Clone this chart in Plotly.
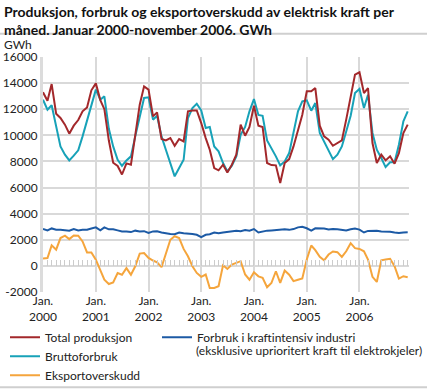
import plotly.graph_objects as go
import pandas as pd

months = pd.date_range("2000-01-01", periods=84, freq="MS").strftime("%Y-%m-%d").tolist()

total_produksjon = [
    13300, 12650, 13930, 11660, 11330, 10820, 10130, 10740, 11170, 11840, 12140, 13450,
    13980, 12700, 12000, 9600, 7900, 7650, 7000, 7850, 7750, 10050, 12350, 13750,
    13500, 11450, 11760, 9720, 9610, 9790, 9200, 9720, 9540, 11840, 11910, 11910,
    10940, 9790, 8900, 7490, 7320, 7750, 7160, 7750, 8520, 10820, 9970, 10640,
    12270, 10740, 10640, 7880, 7720, 7700, 6350, 7880, 8180, 9150, 10430, 11580,
    13370, 13370, 13620, 10740, 9920, 9660, 9200, 9410, 9610, 11200, 12860, 14650,
    14830, 13240, 13620, 9410, 7880, 8520, 8080, 8390, 7830, 8640, 10180, 10820,
]
bruttoforbruk = [
    12730, 11960, 12300, 10690, 9150, 8520, 8080, 8440, 8850, 9920, 11070, 12350,
    13500, 12730, 12990, 10500, 9150, 8130, 7670, 8080, 8390, 9920, 11450, 12860,
    12910, 11200, 11500, 9920, 8900, 7900, 6860, 7490, 8130, 11330, 12090, 12420,
    11910, 10560, 10640, 9150, 8770, 7880, 7240, 7670, 8390, 10050, 10640, 11840,
    12780, 11560, 11500, 9610, 9020, 8390, 7700, 8000, 8640, 10300, 11840, 12600,
    12680, 11890, 12470, 10180, 9540, 8900, 8180, 8520, 9150, 10300, 11500, 13240,
    13550, 12090, 13110, 10180, 8900, 8260, 7570, 7930, 7930, 9280, 11070, 11840,
]
kraftintensiv = [
    2820, 2720, 2870, 2770, 2770, 2720, 2690, 2820, 2720, 2770, 2770, 2870,
    2950, 2720, 2950, 2800, 2800, 2720, 2640, 2640, 2590, 2700, 2640, 2660,
    2520, 2640, 2650, 2560, 2480, 2440, 2420, 2560, 2500, 2480, 2440, 2380,
    2210, 2380, 2420, 2560, 2500, 2560, 2600, 2620, 2700, 2660, 2740, 2700,
    2820, 2560, 2640, 2700, 2720, 2740, 2800, 2800, 2760, 2820, 2950, 3000,
    2880, 2700, 2880, 2860, 2860, 2780, 2820, 2800, 2740, 2720, 2800, 2860,
    2780, 2560, 2680, 2700, 2700, 2640, 2640, 2620, 2560, 2520, 2560, 2580,
]
eksportoverskudd = [
    570, 600, 1570, 1240, 2130, 2310, 2050, 2330, 2310, 1870, 1030, 1030,
    480, -290, -1060, -1390, -1270, -550, -680, -170, -680, -30, 940, 990,
    610, 410, 280, -100, 870, 2000, 2270, 2130, 1300, 740, -30, -540,
    -840, -660, -1690, -1690, -1560, 50, -230, 100, 230, 360, -660, -1060,
    -490, -800, -920, -1640, -1310, -410, -1300, -360, -670, -1170, -1060, -970,
    490, 1560, 1200, 690, 430, 870, 1100, 1050, 690, 1120, 1740, 1360,
    1300, 1120, 490, -840, -1230, 430, 490, 540, -30, -970, -790, -870,
]

x_tickvals = ["2000-01-01", "2001-01-01", "2002-01-01", "2003-01-01", "2004-01-01", "2005-01-01", "2006-01-01"]
x_ticktext = ["Jan.<br>2000", "Jan.<br>2001", "Jan.<br>2002", "Jan.<br>2003", "Jan.<br>2004", "Jan.<br>2005", "Jan.<br>2006"]
y_tickvals = [-2000, 0, 2000, 4000, 6000, 8000, 10000, 12000, 14000, 16000]
y_ticktext = ["-2000", "0", "2000", "4000", "6000", "8000", "10000", "12000", "14000", "16000"]

FONT = "Lato"
TXT = "#222222"
GRID = "#d9d9d9"

fig = go.Figure()
fig.add_trace(go.Scatter(x=months, y=bruttoforbruk, name="Bruttoforbruk", mode="lines",
                         line=dict(color="#17a2b8", width=2), legend="legend", legendrank=2))
fig.add_trace(go.Scatter(x=months, y=total_produksjon, name="Total produksjon", mode="lines",
                         line=dict(color="#a3282b", width=2), legend="legend", legendrank=1))
fig.add_trace(go.Scatter(x=months, y=kraftintensiv, name="Forbruk i kraftintensiv industri", mode="lines",
                         line=dict(color="#1c5aa5", width=2), legend="legend2"))
fig.add_trace(go.Scatter(x=months, y=eksportoverskudd, name="Eksportoverskudd", mode="lines",
                         line=dict(color="#f5a53c", width=2), legend="legend", legendrank=3))
# helper (invisible) trace so the zero-line month tick axis is drawn
fig.add_trace(go.Scatter(x=months, y=eksportoverskudd, xaxis="x2", mode="lines",
                         line=dict(width=0), opacity=0, showlegend=False, hoverinfo="skip"))

L, T, W, H = 43, 57.3, 366, 235.0
def px(xp):
    return (xp - L) / W
def py(yp):
    return (T + H - yp) / H

xrange = ["2000-01-01", "2006-12-10"]

fig.update_layout(
    width=427, height=389,
    margin=dict(l=L, r=427 - L - W, t=57.3, b=389 - 57.3 - H, autoexpand=False),
    paper_bgcolor="white", plot_bgcolor="white",
    font=dict(family=FONT, size=12, color=TXT),
    xaxis=dict(type="date", range=xrange, tickvals=x_tickvals, ticktext=x_ticktext,
               showgrid=True, gridcolor=GRID, gridwidth=1.5, ticks="", zeroline=False,
               showline=False, tickfont=dict(size=12, color=TXT)),
    xaxis2=dict(type="date", range=xrange, overlaying="x", anchor="free", position=2000 / 18000,
                ticks="inside", ticklen=6, tickwidth=1, tickcolor="#cccccc",
                dtick="M1", tick0="2000-01-01", showticklabels=False, showgrid=False,
                showline=False, zeroline=False),
    yaxis=dict(range=[-2000, 16000], tickvals=y_tickvals, ticktext=y_ticktext,
               showgrid=True, gridcolor=GRID, gridwidth=1.5, zeroline=False,
               showline=True, linecolor="#dcdcdc", linewidth=3, ticks="",
               tickfont=dict(size=12, color=TXT)),
    legend=dict(x=px(5), xanchor="left", y=py(323), yanchor="top", bgcolor="rgba(0,0,0,0)",
                font=dict(size=12, color=TXT), tracegroupgap=0, traceorder="normal"),
    legend2=dict(x=px(157), xanchor="left", y=py(323), yanchor="top", bgcolor="rgba(0,0,0,0)",
                 font=dict(size=12, color=TXT)),
    showlegend=True,
    annotations=[
        dict(text="<b>Produksjon, forbruk og eksportoverskudd av elektrisk kraft per<br>måned. Januar 2000-november 2006. GWh</b>",
             xref="paper", yref="paper", x=px(2), y=py(1), xanchor="left", yanchor="top", align="left",
             showarrow=False, font=dict(family=FONT, size=14, color="#111111")),
        dict(text="GWh", xref="paper", yref="paper", x=px(2), y=py(45), xanchor="left", yanchor="middle",
             showarrow=False, font=dict(size=12, color=TXT)),
        dict(text="(eksklusive uprioritert kraft til elektrokjeler)", xref="paper", yref="paper",
             x=px(194), y=py(351), xanchor="left", yanchor="middle", showarrow=False,
             font=dict(size=12, color=TXT)),
    ],
    shapes=[
        dict(type="line", xref="paper", yref="paper", x0=px(0), x1=px(427), y0=py(34), y1=py(34),
             line=dict(color="#cfcfcf", width=2)),
        dict(type="line", xref="paper", yref="paper", x0=px(0), x1=px(427), y0=py(387.5), y1=py(387.5),
             line=dict(color="#cfcfcf", width=2)),
    ],
)

fig.write_html("out.html", config={"displayModeBar": False},
               post_script="document.body.style.margin='0';document.body.style.padding='0';")
